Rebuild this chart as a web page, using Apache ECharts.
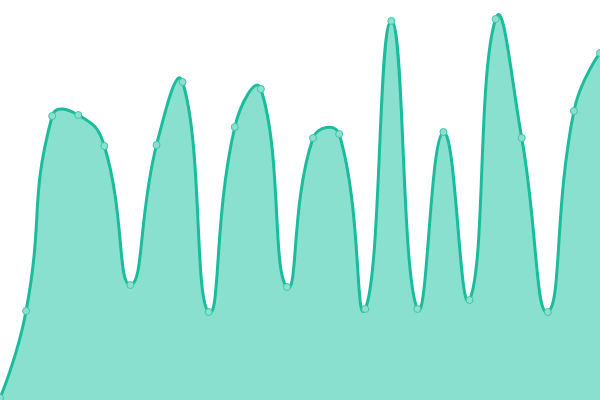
<!DOCTYPE html>
<html>
<head>
<meta charset="utf-8">
<style>html,body{margin:0;padding:0;background:#fff}#c{width:600px;height:400px}</style>
<script src="https://cdn.jsdelivr.net/npm/echarts@6/dist/echarts.min.js"></script>
</head>
<body>
<div id="c"></div>
<script>
const categories = ['1','2','3','4','5','6','7','8','9','10','11','12','13','14','15','16','17','18','19','20','21','22','23','24'];
const values = [2, 89, 284, 285, 254, 115, 255, 318, 88, 273, 311, 113, 262, 266, 91, 379, 91, 268, 100, 381, 262, 88, 289, 347];

const SMOOTH = 0.5;

function buildCurve(pts) {
  // unclamped bezier smoothing (control points from neighbour vectors)
  let d = 'M' + pts[0][0] + ' ' + pts[0][1];
  let cp0 = pts[0].slice();
  for (let i = 1; i < pts.length; i++) {
    const p = pts[i], prev = pts[i - 1], next = pts[i + 1];
    let cp1, nextCp0;
    if (!next) {
      cp1 = p.slice();
      nextCp0 = p.slice();
    } else {
      const vx = next[0] - prev[0], vy = next[1] - prev[1];
      const lp = Math.hypot(p[0] - prev[0], p[1] - prev[1]);
      const ln = Math.hypot(next[0] - p[0], next[1] - p[1]);
      const r = ln / (ln + lp);
      cp1 = [p[0] - vx * SMOOTH * (1 - r), p[1] - vy * SMOOTH * (1 - r)];
      nextCp0 = [p[0] + vx * SMOOTH * r, p[1] + vy * SMOOTH * r];
    }
    d += ' C' + cp0[0] + ' ' + cp0[1] + ' ' + cp1[0] + ' ' + cp1[1] + ' ' + p[0] + ' ' + p[1];
    cp0 = nextCp0;
  }
  return d;
}

const chart = echarts.init(document.getElementById('c'));
chart.setOption({
  animation: false,
  grid: { left: 0, right: 0, top: 0, bottom: 0 },
  xAxis: { type: 'category', data: categories, boundaryGap: false, show: false },
  yAxis: { type: 'value', min: 0, max: 400, show: false },
  series: [{
    type: 'custom',
    data: values,
    z: 1,
    renderItem: function (params, api) {
      if (params.dataIndex !== 0) return null;
      const pts = values.map((v, i) => api.coord([i, v]));
      const curve = buildCurve(pts);
      const b0 = api.coord([0, 0]);
      const b1 = api.coord([values.length - 1, 0]);
      const area = curve + ' L' + b1[0] + ' ' + b1[1] + ' L' + b0[0] + ' ' + b0[1] + ' Z';
      return {
        type: 'group',
        children: [
          { type: 'path', shape: { pathData: area }, style: { fill: '#89e0ce', stroke: null } },
          { type: 'path', shape: { pathData: curve }, style: { fill: null, stroke: '#1abc9c', lineWidth: 3 } }
        ]
      };
    }
  }, {
    type: 'line',
    data: values,
    z: 3,
    symbol: 'circle',
    symbolSize: 7,
    lineStyle: { width: 0, opacity: 0 },
    itemStyle: { color: '#8de0cf', borderColor: '#3cc7a9', borderWidth: 1 }
  }]
});
</script>
</body>
</html>
